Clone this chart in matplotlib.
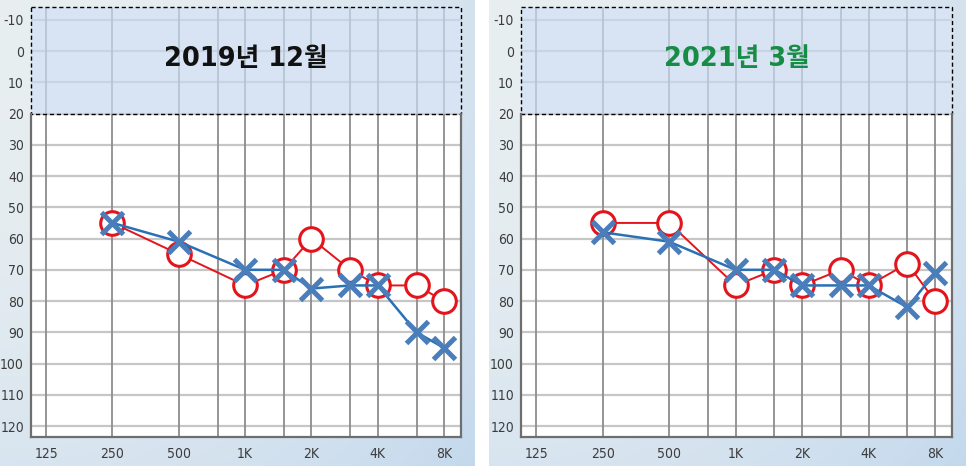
import numpy as np
import matplotlib
matplotlib.use("Agg")
import matplotlib.pyplot as plt
from matplotlib.patches import Rectangle

# audiogram data (dB HL)
freqs = [250, 500, 1000, 1500, 2000, 3000, 4000, 6000, 8000]
right_2019 = [55, 65, 75, 70, 60, 70, 75, 75, 80]
left_2019 = [55, 61, 70, 70, 76, 75, 75, 90, 95]
right_2021 = [55, 55, 75, 70, 75, 70, 75, 68, 80]
left_2021 = [58, 61, 70, 70, 75, 75, 75, 82, 71]

titles = ["2019년 12월", "2021년 3월"]
title_colors = ["#111111", "#168c45"]

grid_freqs = [125, 250, 500, 750, 1000, 1500, 2000, 3000, 4000, 6000, 8000]
xtick_freqs = [125, 250, 500, 1000, 2000, 4000, 8000]
xtick_labels = ["125", "250", "500", "1K", "2K", "4K", "8K"]
ytick_vals = list(range(-10, 130, 10))

W, H = 966, 466
fig = plt.figure(figsize=(W / 100, H / 100), dpi=100)
fig.patch.set_facecolor("white")


def background(x0, x1):
    bg = fig.add_axes([x0 / W, 0, (x1 - x0) / W, 1], zorder=0)
    nx, ny = 200, 100
    gx = np.linspace(0, 1, nx)[None, :]
    gy = np.linspace(0, 1, ny)[:, None]
    t = np.clip(0.55 * gx ** 2 + 0.45 * gy ** 2, 0, 1)
    c0 = np.array([0.91, 0.935, 0.945])
    c1 = np.array([0.77, 0.85, 0.93])
    img = c0[None, None, :] * (1 - t[..., None]) + c1[None, None, :] * t[..., None]
    bg.imshow(img, aspect="auto", extent=[0, 1, 0, 1], origin="upper")
    bg.set_axis_off()


background(0, 475)
background(489, 966)

tick_kw = dict(fontsize=10, color="#3c3c3c", family="DejaVu Sans", fontstretch="condensed")


def panel(x0, x1, right, left, title, tcolor):
    ax = fig.add_axes([x0 / W, 29 / H, (x1 - x0) / W, 430 / H], zorder=1)
    ax.set_facecolor("white")
    ax.set_xscale("log")
    ax.set_xlim(106.7, 9550)
    ax.set_ylim(123.5, -14.1)

    for f in grid_freqs:
        ax.axvline(f, color="#8c8c8c", lw=1.3, zorder=1)
    for v in ytick_vals:
        ax.axhline(v, color="#c6c6c6", lw=1.6, zorder=0.9)

    # shaded normal-hearing band with dashed border
    ax.add_patch(Rectangle((106.7, -14.1), 9550 - 106.7, 34.1, facecolor="#c9daf0",
                           alpha=0.72, edgecolor="none", zorder=2))
    ax.add_patch(Rectangle((106.7, -14.1), 9550 - 106.7, 34.1, facecolor="none",
                           edgecolor="black", lw=1.0, ls=(0, (3, 2)), zorder=2.5,
                           clip_on=False))

    ax.plot(freqs, right, color="#e3141c", lw=1.4, zorder=3)
    ax.plot(freqs, right, ls="none", marker="o", ms=17, mfc="white",
            mec="#e3141c", mew=2.2, zorder=3.2)
    ax.plot(freqs, left, color="#2a70b5", lw=1.8, zorder=4)
    ax.plot(freqs, left, ls="none", marker="x", ms=16, mec="#4a7ebb",
            mew=3.6, zorder=5)

    ax.text(np.sqrt(106.7 * 9550), 2.5, title, ha="center", va="center",
            fontsize=18.5, fontweight="bold", color=tcolor,
            family=["DejaVu Sans", "Noto Sans CJK KR"], zorder=6)

    ax.spines["top"].set_visible(False)
    for s in ["left", "right", "bottom"]:
        ax.spines[s].set_color("#6e6e6e")
        ax.spines[s].set_linewidth(1.6)
    ax.spines["left"].set_bounds(20, 123.5)
    ax.spines["right"].set_bounds(20, 123.5)

    ax.xaxis.set_minor_locator(matplotlib.ticker.NullLocator())
    ax.set_xticks(xtick_freqs)
    ax.set_xticklabels(xtick_labels, **tick_kw)
    ax.set_yticks(ytick_vals)
    ax.set_yticklabels([str(v) for v in ytick_vals], **tick_kw)
    ax.tick_params(length=0)
    ax.tick_params(axis="x", pad=7)
    ax.tick_params(axis="y", pad=5)


panel(31, 461, right_2019, left_2019, titles[0], title_colors[0])
panel(521, 952, right_2021, left_2021, titles[1], title_colors[1])

fig.savefig("out.png", dpi=100)
